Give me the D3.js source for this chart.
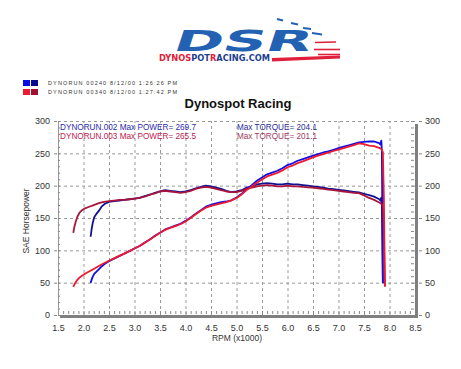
<!DOCTYPE html>
<html>
<head>
<meta charset="utf-8">
<script src="https://cdn.jsdelivr.net/npm/d3@7"></script>
<style>
  body { margin: 0; background: #fff; }
  svg { display: block; font-family: Arial, "Liberation Sans", sans-serif; }
</style>
</head>
<body>
<div id="chart"></div>
<script>
// run 002 (blue) readings
const rpm002 = [2.14, 2.16, 2.18, 2.21, 2.25, 2.30, 2.36, 2.42, 2.50, 2.60, 2.70, 2.80, 2.90, 3.00, 3.10, 3.20, 3.30, 3.40, 3.50, 3.60, 3.70, 3.80, 3.90, 4.00, 4.10, 4.20, 4.30, 4.40, 4.50, 4.60, 4.70, 4.80, 4.90, 5.00, 5.10, 5.20, 5.30, 5.40, 5.50, 5.60, 5.70, 5.80, 5.90, 6.00, 6.10, 6.20, 6.30, 6.40, 6.50, 6.60, 6.70, 6.80, 6.90, 7.00, 7.10, 7.20, 7.30, 7.40, 7.50, 7.60, 7.70, 7.75, 7.80, 7.82, 7.84, 7.85, 7.86, 7.87];
const hp002 = [49.3, 54.7, 58.9, 63.5, 66.8, 70.5, 75.5, 79.3, 83.3, 87.1, 91.0, 94.9, 98.8, 102.8, 106.8, 112.1, 116.9, 122.4, 127.3, 132.3, 135.3, 138.2, 141.1, 145.5, 150.7, 156.7, 162.1, 167.6, 170.5, 172.5, 174.5, 175.5, 177.3, 181.8, 187.4, 195.0, 200.8, 207.7, 212.6, 217.5, 220.3, 223.1, 226.9, 231.9, 234.6, 238.5, 241.1, 243.7, 246.3, 248.8, 251.3, 253.1, 255.5, 257.9, 260.2, 262.5, 264.8, 267.0, 267.8, 268.4, 268.3, 267.1, 265.8, 263.5, 269.7, 254, 150, 50];
const tq002 = [121, 133, 142, 151, 156, 161, 168, 172, 175, 176, 177, 178, 179, 180, 181, 184, 186, 189, 191, 193, 192, 191, 190, 191, 193, 196, 198, 200, 199, 197, 195, 192, 190, 191, 193, 197, 199, 202, 203, 204, 203, 202, 202, 203, 202, 202, 201, 200, 199, 198, 197, 195.5, 194.5, 193.5, 192.5, 191.5, 190.5, 189.5, 187.5, 185.5, 183, 181, 179, 177, 181.5, 170, 120, 49];

// run 003 (red) readings
const rpm003 = [1.80, 1.82, 1.85, 1.88, 1.92, 1.97, 2.03, 2.10, 2.20, 2.30, 2.40, 2.50, 2.60, 2.70, 2.80, 2.90, 3.00, 3.10, 3.20, 3.30, 3.40, 3.50, 3.60, 3.70, 3.80, 3.90, 4.00, 4.10, 4.20, 4.30, 4.40, 4.50, 4.60, 4.70, 4.80, 4.90, 5.00, 5.10, 5.20, 5.30, 5.40, 5.50, 5.60, 5.70, 5.80, 5.90, 6.00, 6.10, 6.20, 6.30, 6.40, 6.50, 6.60, 6.70, 6.80, 6.90, 7.00, 7.10, 7.20, 7.30, 7.40, 7.50, 7.60, 7.70, 7.75, 7.80, 7.84, 7.87, 7.89, 7.90, 7.91];
const hp003 = [43.5, 47.1, 51.1, 54.4, 57.8, 60.8, 63.8, 66.8, 71.2, 75.8, 80.0, 83.8, 87.6, 91.5, 94.9, 98.8, 102.8, 106.8, 111.5, 116.9, 121.7, 127.3, 131.6, 134.6, 137.5, 140.3, 144.7, 149.9, 155.9, 161.3, 165.9, 168.8, 170.8, 172.7, 174.6, 177.3, 180.9, 186.5, 193.1, 198.8, 204.6, 209.4, 214.3, 217.1, 219.8, 223.6, 228.5, 231.1, 234.9, 237.5, 240.7, 243.8, 246.3, 248.8, 251.2, 253.6, 255.9, 258.2, 260.5, 262.7, 265.5, 264.2, 261.9, 261.0, 259.7, 258.4, 256.8, 251.7, 180, 110, 44];
const tq003 = [127, 136, 145, 152, 158, 162, 165, 167, 170, 173, 175, 176, 177, 178, 178, 179, 180, 181, 183, 186, 188, 191, 192, 191, 190, 189, 190, 192, 195, 197, 198, 197, 195, 193, 191, 190, 190, 192, 195, 197, 199, 200, 201, 200, 199, 199, 200, 199, 199, 198, 197.5, 197, 196, 195, 194, 193, 192, 191, 190, 189, 188.4, 185, 181, 178, 176, 174, 172, 168, 130, 80, 44];

const xTicks = [1.5, 2.0, 2.5, 3.0, 3.5, 4.0, 4.5, 5.0, 5.5, 6.0, 6.5, 7.0, 7.5, 8.0, 8.5];
const yTicks = [0, 50, 100, 150, 200, 250, 300];

const legendRows = ["DYNORUN 00240   8/12/00 1:26:26 PM", "DYNORUN 00340   8/12/00 1:27:42 PM"];

const W = 461, H = 369;
const svg = d3.select("#chart").append("svg").attr("width", W).attr("height", H);

const x = d3.scaleLinear().domain([1.5, 8.5]).range([58, 415]);
const y = d3.scaleLinear().domain([0, 300]).range([315, 121]);

// ---- logo ----
const logo = svg.append("g");
logo.append("text")
  .attr("x", 172).attr("y", 51)
  .attr("transform", "skewX(-18) translate(16,0)")
  .attr("font-family", "'DejaVu Sans', sans-serif")
  .attr("font-weight", "bold")
  .attr("font-size", 29)
  .attr("textLength", 138).attr("lengthAdjust", "spacingAndGlyphs")
  .attr("fill", "#2361b3")
  .text("DSR");
const url = logo.append("text")
  .attr("x", 159).attr("y", 60.5)
  .attr("font-family", "'DejaVu Sans', sans-serif")
  .attr("font-weight", "bold")
  .attr("font-size", 8.3)
  .attr("textLength", 111).attr("lengthAdjust", "spacingAndGlyphs");
[["DYNO", "#e0203a"], ["S", "#e0203a"], ["POT", "#1d3f8f"], ["R", "#e0203a"], ["ACING.COM", "#1d3f8f"]]
  .forEach(p => url.append("tspan").attr("fill", p[1]).text(p[0]));
logo.append("path").attr("d", "M272,58 L340,55.5 L340,58.5 L272,61.5 Z").attr("fill", "#e0203a");
const dashes = [[277, 19, 283, 20.5], [291, 23, 298, 24.5], [303, 28, 311, 29], [312, 33, 322, 34.5]];
dashes.forEach(d => logo.append("line").attr("x1", d[0]).attr("y1", d[1]).attr("x2", d[2]).attr("y2", d[3])
  .attr("stroke", "#2361b3").attr("stroke-width", 2));
const redStreaks = [[315, 42.5, 336, 42], [314, 49.5, 340, 49.5], [318, 54.5, 340, 54.5]];
redStreaks.forEach(d => logo.append("line").attr("x1", d[0]).attr("y1", d[1]).attr("x2", d[2]).attr("y2", d[3])
  .attr("stroke", "#e0203a").attr("stroke-width", 1.6));

// ---- legend ----
const legColors = [["#0a0ae6", "#0a0a90"], ["#ee1830", "#a0102e"]];
legendRows.forEach((t, i) => {
  const yy = 80 + i * 9;
  svg.append("rect").attr("x", 23).attr("y", yy).attr("width", 7).attr("height", 6).attr("fill", legColors[i][0]);
  svg.append("rect").attr("x", 31).attr("y", yy).attr("width", 7).attr("height", 6).attr("fill", legColors[i][1]);
  svg.append("text").attr("x", 48).attr("y", yy + 5)
    .attr("font-size", 5.5).attr("fill", "#333")
    .attr("textLength", 129).attr("lengthAdjust", "spacing")
    .text(t);
});

// ---- title ----
svg.append("text").attr("x", 238).attr("y", 108).attr("text-anchor", "middle")
  .attr("font-size", 13).attr("font-weight", "bold").attr("fill", "#111")
  .text("Dynospot Racing");

// ---- grid ----
svg.append("g")
  .attr("transform", "translate(0,315)")
  .call(d3.axisBottom(x).tickValues(xTicks.slice(1, -1)).tickSize(-194).tickFormat(""))
  .call(g => g.select(".domain").remove())
  .selectAll("line").attr("stroke", "#9a9a9a").attr("stroke-dasharray", "3,3");
svg.append("g")
  .attr("transform", "translate(58,0)")
  .call(d3.axisLeft(y).tickValues(yTicks.slice(1)).tickSize(-357).tickFormat(""))
  .call(g => g.select(".domain").remove())
  .selectAll("line").attr("stroke", "#9a9a9a").attr("stroke-dasharray", "3,3");

// minor ticks
svg.append("g")
  .attr("transform", "translate(0,314)")
  .call(d3.axisTop(x).tickValues(d3.range(16, 85).map(v => v / 10)).tickSize(3).tickFormat(""))
  .call(g => g.select(".domain").remove())
  .selectAll("line").attr("stroke", "#888");
svg.append("g")
  .attr("transform", "translate(58,0)")
  .call(d3.axisRight(y).tickValues(d3.range(0, 301, 10)).tickSize(2).tickFormat(""))
  .call(g => g.select(".domain").attr("stroke", "#999"))
  .selectAll("line").attr("stroke", "#888");
svg.append("g")
  .attr("transform", "translate(414,0)")
  .call(d3.axisLeft(y).tickValues(d3.range(0, 301, 10)).tickSize(3).tickFormat(""))
  .call(g => g.select(".domain").remove())
  .selectAll("line").attr("stroke", "#888");

// 3d-ish frame
svg.append("rect").attr("x", 60).attr("y", 315).attr("width", 358).attr("height", 3).attr("fill", "#7f7f7f");
svg.append("rect").attr("x", 415).attr("y", 124).attr("width", 3).attr("height", 194).attr("fill", "#7f7f7f");

// ---- axes labels ----
svg.append("g")
  .attr("transform", "translate(0,317)")
  .call(d3.axisBottom(x).tickValues(xTicks).tickSize(0).tickPadding(8).tickFormat(d3.format(".1f")))
  .call(g => g.select(".domain").remove())
  .selectAll("text").attr("font-size", 9).attr("fill", "#333").attr("font-family", "Arial, 'Liberation Sans'");
svg.append("g")
  .attr("transform", "translate(57,0)")
  .call(d3.axisLeft(y).tickValues(yTicks).tickSize(3).tickPadding(4))
  .call(g => g.select(".domain").remove())
  .call(g => g.selectAll("line").attr("stroke", "#888"))
  .selectAll("text").attr("font-size", 9).attr("fill", "#333").attr("font-family", "Arial, 'Liberation Sans'");
svg.append("g")
  .attr("transform", "translate(419,0)")
  .call(d3.axisRight(y).tickValues(yTicks).tickSize(3).tickPadding(3))
  .call(g => g.select(".domain").remove())
  .call(g => g.selectAll("line").attr("stroke", "#888"))
  .selectAll("text").attr("font-size", 9).attr("fill", "#333").attr("font-family", "Arial, 'Liberation Sans'");

svg.append("text").attr("x", 237).attr("y", 341).attr("text-anchor", "middle")
  .attr("font-size", 8.5).attr("fill", "#333").text("RPM (x1000)");
svg.append("text").attr("transform", "translate(29,221) rotate(-90)").attr("text-anchor", "middle")
  .attr("font-size", 8.5).attr("fill", "#333").text("SAE Horsepower");

// ---- curves ----
const line = d3.line().x(d => x(d[0])).y(d => y(d[1]));
const series = [
  { r: rpm002, v: tq002, c: "#12128e" },
  { r: rpm002, v: hp002, c: "#1010e6" },
  { r: rpm003, v: tq003, c: "#a8143c" },
  { r: rpm003, v: hp003, c: "#f0182e" }
];
const curves = svg.append("g").attr("fill", "none").attr("stroke-width", 1.8).attr("stroke-linejoin", "round");
series.forEach(s => {
  curves.append("path").datum(s.r.map((r, i) => [r, s.v[i]]))
    .attr("stroke", s.c).attr("d", line);
});

// ---- annotations ----
const notes = [
  { x: 60, y: 130, t: "DYNORUN.002  Max POWER= 269.7", c: "#2b2bb0", w: 136 },
  { x: 60, y: 139, t: "DYNORUN.003  Max POWER= 265.5", c: "#c02050", w: 136 },
  { x: 237, y: 130, t: "Max TORQUE= 204.1", c: "#2b2b9a", w: 80 },
  { x: 237, y: 139, t: "Max TORQUE= 201.1", c: "#a03a60", w: 80 }
];
notes.forEach(n => svg.append("text").attr("x", n.x).attr("y", n.y)
  .attr("font-size", 8.6).attr("fill", n.c)
  .attr("textLength", n.w).attr("lengthAdjust", "spacingAndGlyphs")
  .text(n.t));
</script>
</body>
</html>
